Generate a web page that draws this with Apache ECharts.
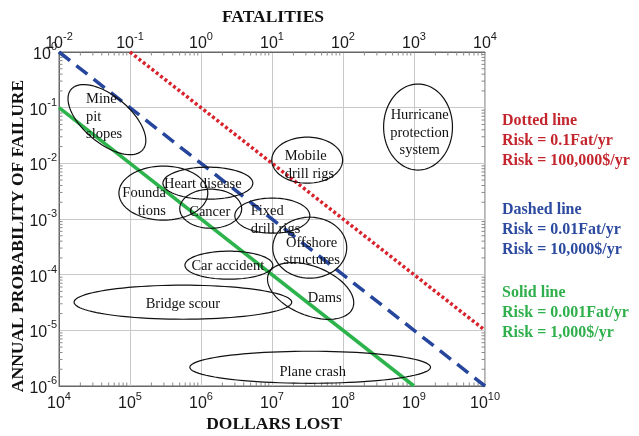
<!DOCTYPE html>
<html>
<head>
<meta charset="utf-8">
<script src="https://cdn.jsdelivr.net/npm/echarts@6/dist/echarts.min.js"></script>
<style>
  html, body { margin: 0; padding: 0; background: #ffffff; }
  #chart { width: 639px; height: 436px; }
</style>
</head>
<body>
<div id="chart"></div>
<script>
// Iso-risk lines: probability = annual risk in dollars / dollars lost
const lineNames = ['Dotted line', 'Dashed line', 'Solid line'];
const riskFatalitiesPerYear = [0.1, 0.01, 0.001];
const riskDollarsPerYear = [100000, 10000, 1000];
const lineDollarStart = [1e5, 1e4, 1e4];
const lineDollarEnd = [1e10, 1e10, 1e9];

// Activity regions: centre (dollars lost, annual probability), half-spans in decades, tilt (deg)
const regionNames = ['Mine pit slopes', 'Foundations', 'Heart disease', 'Cancer', 'Mobile drill rigs',
  'Fixed drill rigs', 'Offshore structures', 'Car accident', 'Dams', 'Bridge scour', 'Plane crash',
  'Hurricane protection system'];
const regionDollars = [4.73e4, 2.95e5, 1.25e6, 1.37e6, 3.13e7, 1.01e7, 3.4e7, 2.47e6, 3.5e7, 5.56e5, 3.45e7, 1.14e9];
const regionProb = [6.1e-2, 2.92e-3, 4.4e-3, 1.53e-3, 1.14e-2, 1.15e-3, 3.05e-4, 1.48e-4, 5.1e-5, 3.2e-5, 2.17e-6, 4.49e-2];
const regionSpanX = [0.66, 0.626, 0.633, 0.436, 0.499, 0.528, 0.521, 0.619, 0.64, 1.533, 1.695, 0.485];
const regionSpanY = [0.42, 0.485, 0.288, 0.351, 0.414, 0.315, 0.548, 0.252, 0.44, 0.306, 0.288, 0.773];
const regionTilt = [40, 0, 0, 0, 0, 0, 0, 0, 22, 0, 0, 0];

// Region captions and their anchor points
const labelText = ['Mine\npit\nslopes', 'Founda\ntions', 'Heart disease', 'Cancer', 'Mobile\ndrill rigs',
  'Fixed\ndrill rigs', 'Offshore\nstructures', 'Car accident', 'Dams', 'Bridge scour', 'Plane crash',
  'Hurricane\nprotection\nsystem'];
const labelDollars = [2.4e4, 3.2e5, 1.06e6, 1.33e6, 1.51e7, 5.02e6, 3.62e7, 2.39e6, 5.52e7, 5.56e5, 3.74e7, 1.2e9];
const labelProb = [6.8e-2, 2.01e-3, 4.23e-3, 1.33e-3, 9.3e-3, 9.5e-4, 2.59e-4, 1.42e-4, 3.78e-5, 2.94e-5, 1.77e-6, 3.5e-2];
const labelAlign = ['left', 'right', 'center', 'center', 'left', 'left', 'center', 'center', 'center', 'center', 'center', 'center'];

// Axis ranges (powers of ten)
const dollarRange = [1e4, 1e10];
const fatalityRange = [1e-2, 1e4];
const probRange = [1e-6, 1];

const lineColors = ['#d8232d', '#25469c', '#2db34b'];
const textColors = ['#c4262e', '#2c4a9f', '#30b04c'];

const serif = '"Liberation Serif", "Times New Roman", serif';
const sans = '"Liberation Sans", Arial, sans-serif';

function powLabel(v) {
  const e = Math.round(Math.log10(v));
  return '{b|10}{s|' + e + '}';
}
const richPow = {
  b: { fontSize: 16, fontFamily: sans, color: '#1a1a1a', lineHeight: 21, verticalAlign: 'bottom' },
  s: { fontSize: 11, fontFamily: sans, color: '#1a1a1a', lineHeight: 11, verticalAlign: 'top' }
};

// minor tick values (2..9 x 10^k) inside each decade of the frame
const minorItems = [];
for (let k = 4; k < 10; k++) for (let m = 2; m <= 9; m++) minorItems.push([m * Math.pow(10, k), 1e-3, 0]);
for (let k = -6; k < 0; k++) for (let m = 2; m <= 9; m++) minorItems.push([1e6, m * Math.pow(10, k), 1]);

const lineStyles = [
  { width: 3.5, type: [3, 2.5], cap: 'butt' },
  { width: 3.5, type: [14, 8], cap: 'butt' },
  { width: 3.5, type: 'solid', cap: 'butt' }
];

const lineSeries = lineNames.map((name, i) => ({
  name: name,
  type: 'line',
  xAxisIndex: 0,
  yAxisIndex: 0,
  showSymbol: false,
  symbol: 'none',
  silent: true,
  z: 3,
  data: [lineDollarStart[i], lineDollarEnd[i]].map(d => [d, riskDollarsPerYear[i] / d]),
  lineStyle: Object.assign({ color: lineColors[i] }, lineStyles[i])
}));

const ellipseSeries = {
  type: 'custom',
  xAxisIndex: 0,
  yAxisIndex: 0,
  silent: true,
  z: 4,
  data: regionNames.map((n, i) => [regionDollars[i], regionProb[i], regionSpanX[i], regionSpanY[i], regionTilt[i]]),
  renderItem: function (params, api) {
    const cx = api.value(0), cy = api.value(1);
    const c = api.coord([cx, cy]);
    const px = api.coord([cx * Math.pow(10, api.value(2)), cy]);
    const py = api.coord([cx, cy * Math.pow(10, api.value(3))]);
    const a = px[0] - c[0];
    const b = c[1] - py[1];
    const th = api.value(4) * Math.PI / 180;
    const pts = [];
    for (let j = 0; j < 96; j++) {
      const t = j / 96 * Math.PI * 2;
      const ex = a * Math.cos(t), ey = b * Math.sin(t);
      pts.push([c[0] + ex * Math.cos(th) - ey * Math.sin(th), c[1] + ex * Math.sin(th) + ey * Math.cos(th)]);
    }
    return { type: 'polygon', shape: { points: pts }, style: { fill: 'none', stroke: '#111', lineWidth: 1.2 } };
  }
};

const captionSeries = {
  type: 'custom',
  xAxisIndex: 0,
  yAxisIndex: 0,
  silent: true,
  z: 5,
  data: labelText.map((t, i) => [labelDollars[i], labelProb[i]]),
  renderItem: function (params, api) {
    const p = api.coord([api.value(0), api.value(1)]);
    const al = labelAlign[params.dataIndex];
    return {
      type: 'text', x: p[0], y: p[1],
      style: {
        text: labelText[params.dataIndex],
        font: '14.5px ' + serif,
        fill: '#111',
        lineHeight: 17.5,
        align: al, textAlign: al,
        verticalAlign: 'middle', textVerticalAlign: 'middle'
      }
    };
  }
};

const minorTickSeries = {
  type: 'custom',
  xAxisIndex: 0,
  yAxisIndex: 0,
  silent: true,
  z: 2,
  data: minorItems,
  renderItem: function (params, api) {
    const cs = params.coordSys;
    const p = api.coord([api.value(0), api.value(1)]);
    const st = { stroke: '#888', lineWidth: 1 };
    const L = 3.5;
    if (api.value(2) === 0) {
      return { type: 'group', children: [
        { type: 'line', shape: { x1: p[0], y1: cs.y, x2: p[0], y2: cs.y + L }, style: st },
        { type: 'line', shape: { x1: p[0], y1: cs.y + cs.height, x2: p[0], y2: cs.y + cs.height - L }, style: st }
      ] };
    }
    return { type: 'group', children: [
      { type: 'line', shape: { x1: cs.x, y1: p[1], x2: cs.x + L, y2: p[1] }, style: st },
      { type: 'line', shape: { x1: cs.x + cs.width, y1: p[1], x2: cs.x + cs.width - L, y2: p[1] }, style: st }
    ] };
  }
};

function txt(text, x, y, font, fill, align, rot) {
  return {
    type: 'text', x: x, y: y, rotation: rot || 0, z: 10,
    style: { text: text, font: font, fill: fill, align: align, textAlign: align,
      verticalAlign: 'middle', textVerticalAlign: 'middle' }
  };
}

const titleFont = 'bold 17.5px ' + serif;
const keyFont = 'bold 16px ' + serif;
const keyTop = [121, 210, 293];
const graphics = [
  txt('FATALITIES', 273, 17, titleFont, '#111', 'center'),
  txt('DOLLARS LOST', 274, 424, titleFont, '#111', 'center'),
  txt('ANNUAL PROBABILITY OF FAILURE', 18, 236, titleFont, '#111', 'center', Math.PI / 2)
];
lineNames.forEach((n, i) => {
  graphics.push(txt(n, 502, keyTop[i], keyFont, textColors[i], 'left'));
  graphics.push(txt('Risk = ' + riskFatalitiesPerYear[i] + 'Fat/yr', 502, keyTop[i] + 20, keyFont, textColors[i], 'left'));
  graphics.push(txt('Risk = ' + riskDollarsPerYear[i].toLocaleString('en-US') + '$/yr', 502, keyTop[i] + 40, keyFont, textColors[i], 'left'));
});

const frameLine = { show: true, lineStyle: { color: '#666', width: 1 } };

const option = {
  animation: false,
  backgroundColor: '#ffffff',
  grid: { left: 59, right: 154, top: 52, bottom: 50, show: true, borderColor: '#666', borderWidth: 1, backgroundColor: 'transparent' },
  xAxis: [
    {
      type: 'log', logBase: 10, min: dollarRange[0], max: dollarRange[1], splitNumber: 6,
      position: 'bottom',
      axisLine: frameLine, axisTick: { show: false },
      splitLine: { show: true, lineStyle: { color: '#c8c8c8', width: 1 } },
      axisLabel: { margin: 5, formatter: powLabel, rich: richPow }
    },
    {
      type: 'log', logBase: 10, min: fatalityRange[0], max: fatalityRange[1], splitNumber: 6,
      position: 'top',
      axisLine: frameLine, axisTick: { show: false },
      splitLine: { show: false },
      axisLabel: { margin: 0, formatter: powLabel, rich: richPow }
    }
  ],
  yAxis: [
    {
      type: 'log', logBase: 10, min: probRange[0], max: probRange[1], splitNumber: 6,
      axisLine: frameLine, axisTick: { show: false },
      splitLine: { show: true, lineStyle: { color: '#c8c8c8', width: 1 } },
      axisLabel: { margin: 2, formatter: powLabel, rich: richPow }
    }
  ],
  graphic: graphics,
  series: [minorTickSeries].concat(lineSeries, [ellipseSeries, captionSeries])
};

const chart = echarts.init(document.getElementById('chart'), null, { renderer: 'canvas' });
chart.setOption(option);
</script>
</body>
</html>
